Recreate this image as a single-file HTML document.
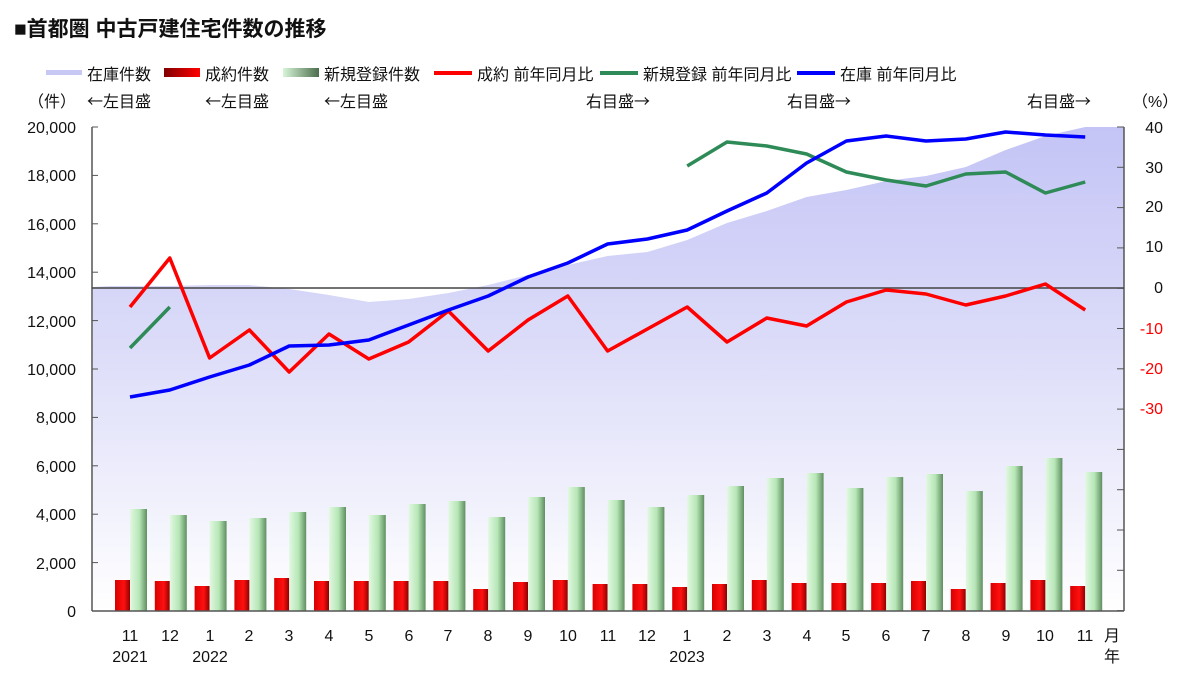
<!DOCTYPE html>
<html><head><meta charset="utf-8">
<style>
body{margin:0;background:#fff;}
svg text{font-family:"Liberation Sans","Noto Sans CJK JP",sans-serif;fill:#111;}
svg text.j{font-family:"Noto Sans CJK JP",sans-serif;}
</style></head><body>
<svg id="c" width="1200" height="679" viewBox="0 0 1200 679" xmlns="http://www.w3.org/2000/svg">
<defs>
<linearGradient id="ag" x1="0" y1="0" x2="0" y2="1">
<stop offset="0" stop-color="#c4c4f6"/><stop offset="0.45" stop-color="#dcdcf9"/><stop offset="1" stop-color="#ffffff"/>
</linearGradient>
<linearGradient id="rg" x1="0" y1="0" x2="1" y2="0">
<stop offset="0" stop-color="#d80000"/><stop offset="0.6" stop-color="#ff1010"/><stop offset="1" stop-color="#900000"/>
</linearGradient>
<linearGradient id="gg" x1="0" y1="0" x2="1" y2="0">
<stop offset="0" stop-color="#e2f8e2"/><stop offset="0.55" stop-color="#b6e6b6"/><stop offset="1" stop-color="#5f8f60"/>
</linearGradient>
<linearGradient id="rl" x1="0" y1="0" x2="1" y2="0"><stop offset="0" stop-color="#800000"/><stop offset="1" stop-color="#ff0000"/></linearGradient>
<linearGradient id="gl" x1="0" y1="0" x2="1" y2="0"><stop offset="0" stop-color="#d8f5d8"/><stop offset="1" stop-color="#4c6e4c"/></linearGradient>
</defs>
<text x="14" y="36" font-size="21" font-weight="bold">■首都圏 中古戸建住宅件数の推移</text>
<rect x="46" y="70" width="36" height="5" fill="#c8c8f4"/>
<text x="87" y="80" font-size="16">在庫件数</text>
<rect x="164" y="68" width="36" height="9" fill="url(#rl)"/>
<text x="205" y="80" font-size="16">成約件数</text>
<rect x="283" y="68" width="36" height="9" fill="url(#gl)"/>
<text x="324" y="80" font-size="16">新規登録件数</text>
<rect x="434" y="71" width="38" height="4" fill="#ff0000"/>
<text x="477" y="80" font-size="16">成約 前年同月比</text>
<rect x="600" y="71" width="38" height="4" fill="#2e8b57"/>
<text x="643" y="80" font-size="16">新規登録 前年同月比</text>
<rect x="797" y="71" width="38" height="4" fill="#0000ff"/>
<text x="840" y="80" font-size="16">在庫 前年同月比</text>
<text x="28" y="107" font-size="16">（件）</text>
<text class="j" x="87" y="107" font-size="16">←左目盛</text>
<text class="j" x="205" y="107" font-size="16">←左目盛</text>
<text class="j" x="324" y="107" font-size="16">←左目盛</text>
<text class="j" x="586" y="107" font-size="16">右目盛→</text>
<text class="j" x="787" y="107" font-size="16">右目盛→</text>
<text class="j" x="1027" y="107" font-size="16">右目盛→</text>
<text x="1132" y="107" font-size="16">（%）</text>
<g id="plot"></g>
<g font-size="16" text-anchor="end">
<text x="76" y="133">20,000</text><text x="76" y="181">18,000</text><text x="76" y="230">16,000</text>
<text x="76" y="278">14,000</text><text x="76" y="327">12,000</text><text x="76" y="375">10,000</text>
<text x="76" y="423">8,000</text><text x="76" y="472">6,000</text><text x="76" y="520">4,000</text>
<text x="76" y="569">2,000</text><text x="76" y="617">0</text>
</g>
<g font-size="16" text-anchor="end">
<text x="1163" y="133">40</text><text x="1163" y="173">30</text><text x="1163" y="212">20</text>
<text x="1163" y="252">10</text><text x="1163" y="293">0</text>
</g>
<g font-size="16" text-anchor="end">
<text x="1163" y="334" style="fill:#ff0000">-10</text><text x="1163" y="374" style="fill:#ff0000">-20</text><text x="1163" y="414" style="fill:#ff0000">-30</text>
</g>
<g font-size="16" text-anchor="middle">
<text x="130" y="641">11</text><text x="170" y="641">12</text><text x="210" y="641">1</text><text x="249" y="641">2</text>
<text x="289" y="641">3</text><text x="329" y="641">4</text><text x="369" y="641">5</text><text x="409" y="641">6</text>
<text x="448" y="641">7</text><text x="488" y="641">8</text><text x="528" y="641">9</text><text x="568" y="641">10</text>
<text x="608" y="641">11</text><text x="647" y="641">12</text><text x="687" y="641">1</text><text x="727" y="641">2</text>
<text x="767" y="641">3</text><text x="807" y="641">4</text><text x="846" y="641">5</text><text x="886" y="641">6</text>
<text x="926" y="641">7</text><text x="966" y="641">8</text><text x="1006" y="641">9</text><text x="1045" y="641">10</text>
<text x="1085" y="641">11</text><text x="1112" y="641">月</text>
<text x="130" y="662">2021</text><text x="210" y="662">2022</text><text x="687" y="662">2023</text><text x="1112" y="662">年</text>
</g>
</svg>
<script>
(function(){
var g=document.getElementById('plot'),NS='http://www.w3.org/2000/svg';
function el(t,a){var e=document.createElementNS(NS,t);for(var k in a)e.setAttribute(k,a[k]);g.appendChild(e);return e;}
var cx=[];for(var i=0;i<25;i++)cx.push(130+i*39.8);
var area=[286,286,285,285,289,295,302,299,293,285,275,265,256,252,240,223,211,197,190,181,176,167,150,136,127];
var d='M93,611 L93,287 L110,286';for(i=0;i<25;i++)d+=' L'+cx[i]+','+area[i];d+=' L1124,127 L1124,611 Z';
el('path',{d:d,fill:'url(#ag)'});
var red=[580,581,586,580,578,581,581,581,581,589,582,580,584,584,587,584,580,583,583,583,581,589,583,580,586];
var grn=[509,515,521,518,512,507,515,504,501,517,497,487,500,507,495,486,478,473,488,477,474,491,466,458,472];
for(i=0;i<25;i++){
el('rect',{x:cx[i]-15,y:red[i],width:15,height:611-red[i],fill:'url(#rg)'});
el('rect',{x:cx[i],y:grn[i],width:17,height:611-grn[i],fill:'url(#gg)'});}
el('line',{x1:92,y1:127,x2:92,y2:611,stroke:'#555','stroke-width':1.5});
el('line',{x1:1124,y1:127,x2:1124,y2:611,stroke:'#555','stroke-width':1.5});
el('line',{x1:92,y1:611,x2:1124,y2:611,stroke:'#555','stroke-width':1.5});
for(i=0;i<=10;i++){var y=127+i*48.4;el('line',{x1:92,y1:y,x2:98,y2:y,stroke:'#555'});}
for(i=0;i<=12;i++){var y2=127+i*40.3;el('line',{x1:1117,y1:y2,x2:1124,y2:y2,stroke:'#555'});}
el('line',{x1:92,y1:288,x2:1124,y2:288,stroke:'#444','stroke-width':1.5});
function pl(xs,ys,c){var p=[];for(var j=0;j<ys.length;j++)p.push(xs[j]+','+ys[j]);el('polyline',{points:p.join(' '),fill:'none',stroke:c,'stroke-width':3.5,'stroke-linejoin':'round'});}
pl(cx,[307,258,358,330,372,334,359,342,311,351,320,296,351,329,307,342,318,326,302,290,294,305,296,284,310],'#ff0000');
pl(cx.slice(0,2),[348,307],'#2e8b57');
pl(cx.slice(14),[166,142,146,154,172,180,186,174,172,193,182],'#2e8b57');
pl(cx,[397,390,377,365,346,345,340,325,310,296,277,263,244,239,230,211,193,163,141,136,141,139,132,135,137],'#0000ff');
})();
</script>
</body></html>
